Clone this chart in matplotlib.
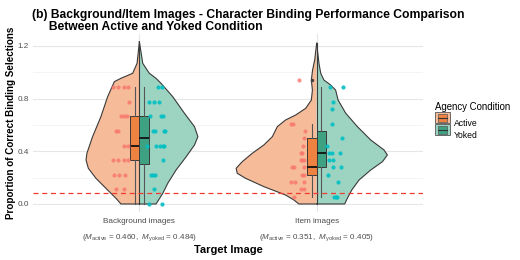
import numpy as np
import matplotlib
matplotlib.use('Agg')
import matplotlib.pyplot as plt
from matplotlib.patches import Rectangle
from matplotlib.legend_handler import HandlerBase
from matplotlib.lines import Line2D

plt.rcParams['font.family'] = ['Liberation Sans', 'DejaVu Sans']
plt.rcParams['mathtext.fontset'] = 'custom'
plt.rcParams['mathtext.rm'] = 'Liberation Sans'
plt.rcParams['mathtext.it'] = 'Liberation Sans:italic'

# categories and summary values
categories = ['Background images', 'Item images']
means_active = [0.460, 0.351]
means_yoked = [0.484, 0.405]
chance = 1 / 12

# half-violin outlines: (y, half width)
bg_active_y = [1.232, 1.068, 0.992, 0.954, 0.929, 0.815, 0.663, 0.511, 0.385, 0.334, 0.271, 0.195, 0.106, 0.043, 0.0]
bg_active_w = [0.0, 0.013, 0.038, 0.104, 0.141, 0.179, 0.217, 0.264, 0.296, 0.301, 0.288, 0.245, 0.179, 0.132, 0.104]
bg_yoked_y = [1.232, 1.068, 0.992, 0.954, 0.916, 0.815, 0.689, 0.587, 0.511, 0.448, 0.359, 0.258, 0.157, 0.081, 0.0]
bg_yoked_w = [0.0, 0.019, 0.056, 0.094, 0.122, 0.188, 0.254, 0.311, 0.330, 0.311, 0.264, 0.207, 0.160, 0.132, 0.094]
it_active_y = [1.22, 1.094, 1.017, 0.941, 0.865, 0.789, 0.726, 0.675, 0.638, 0.587, 0.511, 0.448, 0.385, 0.321,
               0.271, 0.233, 0.195, 0.132, 0.068, 0.030, 0.0]
it_active_w = [0.0, 0.011, 0.023, 0.030, 0.024, 0.030, 0.062, 0.119, 0.175, 0.222, 0.250, 0.298, 0.363, 0.420,
               0.454, 0.448, 0.401, 0.298, 0.175, 0.128, 0.100]
it_yoked_y = [1.22, 1.068, 0.992, 0.941, 0.903, 0.865, 0.789, 0.689, 0.587, 0.486, 0.410, 0.372, 0.321, 0.258,
              0.182, 0.106, 0.043, 0.0]
it_yoked_w = [0.0, 0.013, 0.023, 0.041, 0.079, 0.107, 0.121, 0.164, 0.230, 0.305, 0.380, 0.399, 0.371, 0.305,
              0.239, 0.198, 0.173, 0.158]

# individual participants (value, horizontal jitter)
bg_active_v = [0.889, 0.889, 0.889, 0.889, 0.778, 0.667, 0.667, 0.667, 0.556, 0.556, 0.444, 0.444,
               0.333, 0.333, 0.333, 0.333, 0.222, 0.222, 0.222, 0.111, 0.111]
bg_active_j = [-0.150, -0.122, -0.085, -0.066, -0.056, -0.103, -0.088, -0.069, -0.132, -0.122, -0.085, -0.066,
               -0.150, -0.122, -0.085, -0.066, -0.145, -0.113, -0.081, -0.132, -0.085]
bg_yoked_v = [0.889, 0.889, 0.778, 0.778, 0.778, 0.667, 0.667, 0.667, 0.556, 0.556, 0.556, 0.556,
              0.444, 0.444, 0.444, 0.444, 0.444, 0.333, 0.222, 0.222, 0.222, 0.111, 0.0, 0.0]
bg_yoked_j = [0.104, 0.128, 0.056, 0.081, 0.113, 0.060, 0.123, 0.132, 0.076, 0.089, 0.138, 0.147,
              0.042, 0.094, 0.119, 0.132, 0.138, 0.136, 0.066, 0.076, 0.089, 0.081, 0.056, 0.128]
it_active_v = [0.944, 0.611, 0.611, 0.556, 0.5, 0.444, 0.389, 0.389, 0.333, 0.333, 0.333, 0.278, 0.278, 0.278,
               0.222, 0.222, 0.167, 0.167, 0.167, 0.111, 0.111, 0.056]
it_active_j = [-0.100, -0.132, -0.143, -0.068, -0.072, -0.075, -0.081, -0.090, -0.072, -0.081, -0.090,
               -0.137, -0.128, -0.072, -0.081, -0.072, -0.147, -0.124, -0.072, -0.090, -0.072, -0.128]
it_yoked_v = [0.889, 0.889, 0.778, 0.722, 0.611, 0.5, 0.444, 0.389, 0.389, 0.389, 0.333, 0.333, 0.278, 0.278,
              0.222, 0.167, 0.056, 0.056, 0.056]
it_yoked_j = [0.073, 0.149, 0.094, 0.089, 0.085, 0.141, 0.056, 0.069, 0.089, 0.130, 0.069, 0.092, 0.092, 0.136,
              0.066, 0.123, 0.098, 0.107, 0.117]

# boxplot stats: whislo, q1, med, q3, whishi
box_active = [[0.0, 0.333, 0.444, 0.667, 0.889], [0.056, 0.222, 0.278, 0.5, 0.611]]
box_yoked = [[0.0, 0.306, 0.5, 0.667, 0.889], [0.056, 0.278, 0.389, 0.556, 0.889]]
fliers_active = [[], [0.944]]
fliers_yoked = [[], []]

vio_col = {'Active': '#F6BB99', 'Yoked': '#9DD4C1'}
box_col = {'Active': '#EE8240', 'Yoked': '#3EA282'}
pt_col = {'Active': '#F8766D', 'Yoked': '#00BFC4'}
edge = '#3A3A3A'

fig = plt.figure(figsize=(5.2, 2.6), dpi=100)
ax = fig.add_axes([0.0635, 0.184, 0.75, 0.685])

violins = [(bg_active_y, bg_active_w, bg_yoked_y, bg_yoked_w),
           (it_active_y, it_active_w, it_yoked_y, it_yoked_w)]
points = [(bg_active_v, bg_active_j, bg_yoked_v, bg_yoked_j),
          (it_active_v, it_active_j, it_yoked_v, it_yoked_j)]

for i, x0 in enumerate([1, 2]):
    ay, aw, yy, yw = violins[i]
    ay, aw, yy, yw = map(np.array, (ay, aw, yy, yw))
    # left half = active
    ax.fill(np.r_[x0 - aw, x0, x0], np.r_[ay, 0, ay[0]], color=vio_col['Active'], zorder=2, lw=0)
    ax.plot(np.r_[x0, x0 - aw, x0], np.r_[ay[0], ay, 0], color=edge, lw=0.8, zorder=3)
    # right half = yoked
    ax.fill(np.r_[x0 + yw, x0, x0], np.r_[yy, 0, yy[0]], color=vio_col['Yoked'], zorder=2, lw=0)
    ax.plot(np.r_[x0, x0 + yw, x0], np.r_[yy[0], yy, 0], color=edge, lw=0.8, zorder=3)
    ax.plot([x0, x0], [0, max(ay[0], yy[0])], color=edge, lw=0.8, zorder=3)

    av, aj, yv, yj = points[i]
    ax.scatter(x0 + np.array(aj), av, s=9, color=pt_col['Active'], alpha=0.8, lw=0, zorder=5)
    ax.scatter(x0 + np.array(yj), yv, s=9, color=pt_col['Yoked'], alpha=0.9, lw=0, zorder=5)

    for cond, st, fl, off in [('Active', box_active[i], fliers_active[i], -0.026),
                              ('Yoked', box_yoked[i], fliers_yoked[i], 0.026)]:
        stats = [dict(whislo=st[0], q1=st[1], med=st[2], q3=st[3], whishi=st[4], fliers=fl)]
        ax.bxp(stats, positions=[x0 + off], widths=0.052, patch_artist=True, showcaps=False,
               boxprops=dict(facecolor=box_col[cond], edgecolor=edge, lw=0.7),
               whiskerprops=dict(color='#555555', lw=0.8),
               medianprops=dict(color='#111111', lw=1.3),
               flierprops=dict(marker='o', markersize=2.5, markerfacecolor='#444444',
                               markeredgecolor='none'),
               manage_ticks=False, zorder=4)

ax.axhline(chance, color='#F03A30', lw=0.9, ls=(0, (4, 3)), zorder=6)

ax.set_xlim(0.4, 2.6)
ax.set_ylim(-0.062, 1.29)
ax.set_yticks([0.0, 0.4, 0.8, 1.2])
ax.set_yticks([0.2, 0.6, 1.0], minor=True)
ax.set_yticklabels(['0.0', '0.4', '0.8', '1.2'])
ax.set_xticks([1, 2])
ax.set_xticklabels(categories)
ax.tick_params(axis='both', which='both', length=0, labelsize=5.9, labelcolor='#4D4D4D', pad=3)
ax.tick_params(axis='x', pad=4)
ax.grid(True, which='major', color='#E6E6E6', lw=0.8, zorder=0)
ax.grid(True, which='minor', axis='y', color='#F2F2F2', lw=0.6, zorder=0)
ax.set_axisbelow(True)
for s in ax.spines.values():
    s.set_visible(False)

for x0, ma, my in zip([1, 2], means_active, means_yoked):
    ax.text(x0, -0.255, r'($M_{\mathrm{active}}$ = %.3f,  $M_{\mathrm{yoked}}$ = %.3f)' % (ma, my),
            ha='center', va='center', fontsize=5.8, color='#4D4D4D')

ax.set_xlabel('Target Image', fontsize=8, fontweight='bold')
ax.xaxis.set_label_coords(0.5, -0.185)
ax.set_ylabel('Proportion of Correct Binding Selections', fontsize=7.1, fontweight='bold')
ax.yaxis.set_label_coords(-0.044, 0.5)

fig.text(0.061, 0.965, '(b) Background/Item Images - Character Binding Performance Comparison\n'
                       '     Between Active and Yoked Condition',
         fontsize=8.7, fontweight='bold', ha='left', va='top', linespacing=1.0)


class BoxViolinHandler(HandlerBase):
    def create_artists(self, legend, orig_handle, xd, yd, width, height, fontsize, trans):
        cond = orig_handle.get_label()
        outer = Rectangle((xd, yd), width, height, facecolor=vio_col[cond],
                          edgecolor='#555555', lw=0.6, transform=trans)
        inner = Rectangle((xd + width * 0.2, yd + height * 0.15), width * 0.6, height * 0.7,
                          facecolor=box_col[cond], edgecolor='#555555', lw=0.5, transform=trans)
        med = Line2D([xd + width * 0.2, xd + width * 0.8], [yd + height / 2] * 2, color='#333333',
                     lw=0.8, transform=trans)
        return [outer, inner, med]


handles = [Line2D([], [], label='Active'), Line2D([], [], label='Yoked')]
leg = fig.legend(handles=handles, labels=['Active', 'Yoked'], handler_map={Line2D: BoxViolinHandler()},
                 loc='upper left', bbox_to_anchor=(0.835, 0.61), frameon=False, fontsize=6.2,
                 title='Agency Condition', title_fontsize=6.9, handlelength=1.7, handleheight=1.6,
                 handletextpad=0.45, labelspacing=0.1, borderaxespad=0, borderpad=0.1)
leg._legend_box.align = 'left'
leg._legend_box.sep = 4

fig.savefig('out.png', dpi=100)
